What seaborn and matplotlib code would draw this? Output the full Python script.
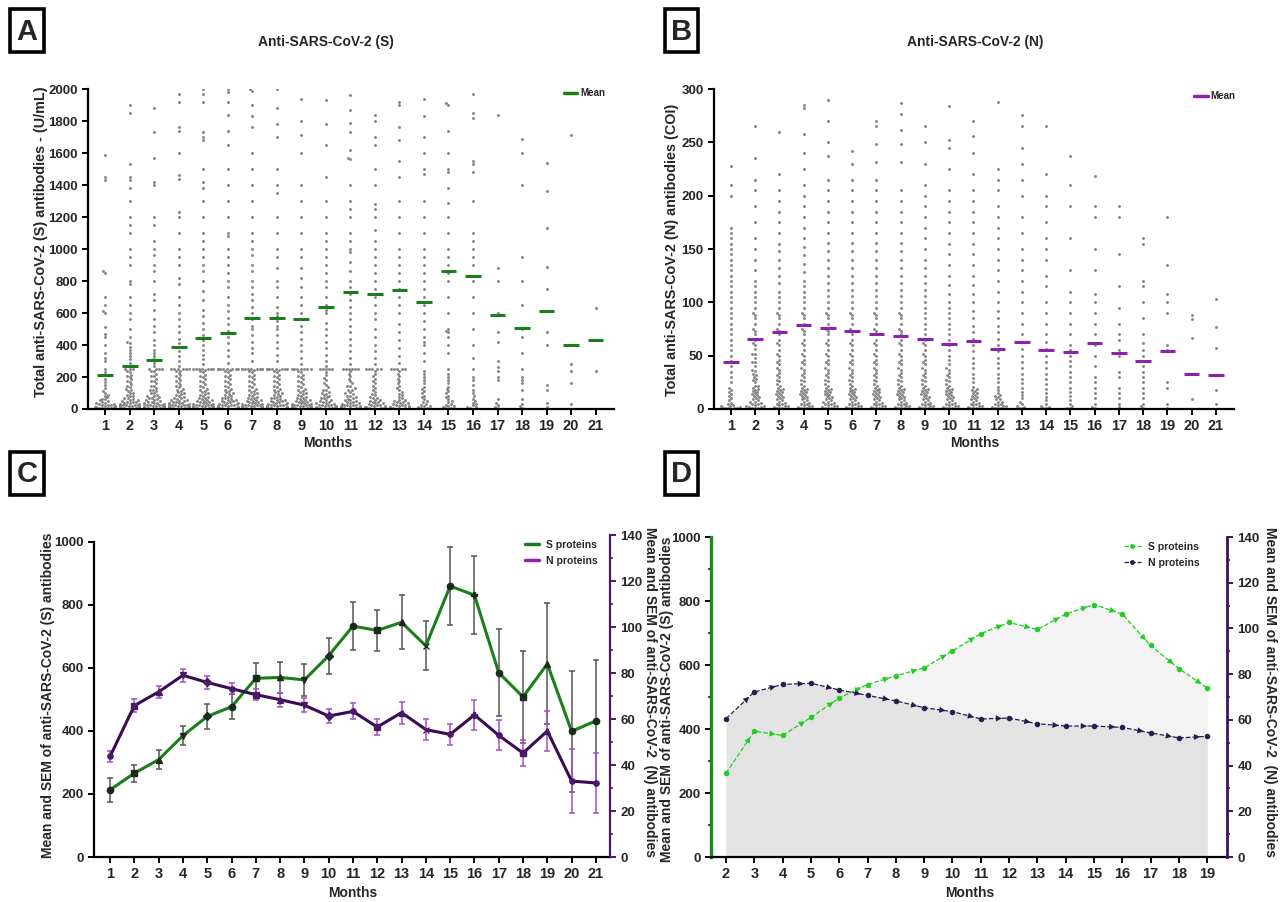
import numpy as np
import pandas as pd
import matplotlib
matplotlib.use("Agg")
import matplotlib.pyplot as plt
from matplotlib.lines import Line2D
from matplotlib.patches import Rectangle
from matplotlib.ticker import MultipleLocator
import seaborn as sns

# ---------------- data ----------------
months = list(range(1, 22))

# panel A - individual anti-S values (U/mL) per month
s_m1 = [2, 4, 5, 6, 8, 10, 12, 14, 15, 18, 20, 22, 25, 28, 30, 33, 36, 40, 45, 50, 55, 60, 65, 72, 80, 90, 100, 115, 130, 150, 170, 190, 210, 230, 250, 300, 320, 350, 400, 450, 470, 510, 600, 610, 650, 700, 850, 860, 1430, 1450, 1590]
s_m2 = [1, 3, 5, 6, 8, 10, 12, 14, 16, 18, 20, 22, 25, 28, 30, 34, 38, 42, 46, 50, 55, 60, 70, 80, 90, 100, 110, 125, 140, 155, 170, 185, 200, 215, 230, 250, 250, 250, 270, 290, 310, 330, 350, 370, 390, 410, 420, 450, 500, 560, 600, 650, 700, 780, 800, 900, 950, 1000, 1100, 1150, 1200, 1300, 1380, 1430, 1450, 1530, 1850, 1900, 3, 7, 12, 17, 22, 28, 35, 44, 55, 68, 82, 98, 120, 145, 175, 205, 235]
s_m3 = [1, 3, 4, 6, 8, 10, 12, 15, 18, 20, 23, 26, 30, 33, 36, 40, 45, 50, 55, 60, 66, 72, 80, 90, 100, 110, 120, 130, 145, 160, 175, 190, 205, 220, 240, 250, 250, 250, 250, 270, 290, 310, 330, 350, 370, 400, 430, 480, 520, 560, 620, 680, 720, 800, 860, 900, 960, 1000, 1050, 1150, 1200, 1400, 1420, 1570, 1730, 1880, 3, 7, 12, 17, 22, 28, 35, 44, 55, 68, 82, 98, 120, 145, 175, 205, 235]
s_m4 = [1, 2, 4, 5, 7, 9, 11, 13, 15, 18, 20, 23, 26, 29, 32, 36, 40, 44, 48, 53, 58, 64, 70, 78, 86, 95, 105, 115, 125, 135, 150, 165, 180, 195, 210, 225, 240, 250, 250, 250, 250, 250, 250, 270, 300, 330, 360, 390, 410, 440, 480, 520, 560, 600, 650, 700, 780, 820, 900, 950, 1000, 1100, 1200, 1230, 1440, 1460, 1600, 1740, 1760, 1920, 1970, 3, 7, 12, 17, 22, 28, 35, 44, 55, 68, 82, 98, 120, 145, 175, 205, 235]
s_m5 = [1, 2, 4, 5, 7, 9, 11, 13, 15, 18, 21, 24, 27, 30, 34, 38, 42, 47, 52, 58, 64, 70, 78, 86, 95, 105, 115, 125, 140, 155, 170, 185, 200, 215, 230, 245, 250, 250, 250, 250, 250, 250, 250, 280, 310, 340, 370, 400, 430, 460, 500, 540, 580, 620, 680, 740, 800, 860, 900, 950, 1000, 1050, 1100, 1200, 1300, 1380, 1420, 1500, 1680, 1700, 1730, 1920, 1970, 2000, 3, 7, 12, 17, 22, 28, 35, 44, 55, 68, 82, 98, 120, 145, 175, 205, 235]
s_m6 = [1, 2, 3, 5, 6, 8, 10, 12, 14, 17, 20, 23, 26, 30, 34, 38, 42, 47, 52, 58, 64, 70, 78, 86, 95, 105, 115, 128, 140, 155, 170, 185, 200, 215, 230, 245, 250, 250, 250, 250, 250, 250, 250, 250, 290, 330, 370, 410, 450, 490, 530, 570, 610, 650, 700, 760, 800, 850, 900, 950, 1000, 1080, 1100, 1200, 1300, 1400, 1500, 1650, 1740, 1840, 1920, 1980, 2000, 3, 7, 12, 17, 22, 28, 35, 44, 55, 68, 82, 98, 120, 145, 175, 205, 235]
s_m7 = [1, 2, 3, 4, 6, 7, 9, 11, 13, 15, 18, 21, 24, 27, 30, 34, 38, 42, 47, 52, 58, 64, 70, 78, 86, 95, 105, 115, 128, 140, 155, 170, 185, 200, 215, 230, 245, 250, 250, 250, 250, 250, 250, 250, 250, 250, 300, 350, 380, 420, 460, 500, 520, 560, 600, 640, 680, 720, 760, 800, 860, 900, 960, 1000, 1050, 1100, 1200, 1300, 1400, 1500, 1600, 1760, 1830, 1900, 1990, 2000, 3, 7, 12, 17, 22, 28, 35, 44, 55, 68, 82, 98, 120, 145, 175, 205, 235]
s_m8 = [1, 2, 3, 5, 6, 8, 10, 12, 14, 17, 20, 23, 26, 30, 34, 38, 42, 47, 52, 58, 64, 70, 78, 86, 95, 105, 115, 128, 140, 155, 170, 185, 200, 215, 230, 245, 250, 250, 250, 250, 250, 250, 250, 250, 300, 340, 380, 420, 460, 500, 520, 550, 580, 600, 640, 700, 760, 800, 880, 950, 1000, 1100, 1200, 1350, 1400, 1500, 1700, 1780, 1880, 2000, 3, 7, 12, 17, 22, 28, 35, 44, 55, 68, 82, 98, 120, 145, 175, 205, 235]
s_m9 = [1, 2, 4, 5, 7, 9, 11, 13, 15, 18, 21, 24, 27, 30, 34, 38, 42, 47, 52, 58, 64, 70, 78, 86, 95, 105, 115, 128, 140, 155, 170, 185, 200, 215, 230, 250, 250, 250, 250, 250, 250, 250, 280, 320, 360, 400, 440, 480, 520, 560, 600, 650, 700, 760, 820, 880, 950, 1000, 1100, 1200, 1300, 1400, 1600, 1710, 1800, 1940, 3, 7, 12, 17, 22, 28, 35, 44, 55, 68, 82, 98, 120, 145, 175, 205, 235]
s_m10 = [2, 4, 6, 9, 12, 15, 19, 23, 27, 32, 37, 43, 50, 58, 66, 75, 85, 96, 108, 120, 135, 150, 165, 180, 195, 210, 230, 250, 250, 250, 250, 250, 270, 300, 340, 380, 420, 460, 500, 540, 600, 620, 650, 700, 760, 800, 850, 900, 950, 1000, 1050, 1100, 1200, 1300, 1450, 1650, 1780, 1930, 3, 7, 12, 17, 22, 28, 35, 44, 55, 68, 82, 98, 120]
s_m11 = [1, 3, 5, 7, 10, 13, 16, 20, 24, 28, 33, 38, 44, 50, 57, 65, 74, 84, 95, 106, 118, 130, 145, 160, 175, 190, 205, 220, 235, 250, 250, 250, 250, 250, 250, 280, 320, 360, 400, 440, 480, 520, 560, 600, 640, 680, 720, 760, 800, 860, 920, 980, 1000, 1050, 1100, 1200, 1250, 1300, 1400, 1560, 1570, 1620, 1730, 1790, 1870, 1960, 3, 7, 12, 17, 22, 28, 35, 44, 55, 68, 82, 98, 120, 145]
s_m12 = [1, 3, 5, 8, 11, 15, 19, 24, 30, 36, 43, 50, 58, 66, 75, 85, 95, 106, 118, 130, 145, 160, 175, 190, 205, 220, 240, 250, 250, 250, 250, 250, 280, 320, 360, 400, 450, 500, 560, 600, 650, 700, 750, 800, 850, 900, 950, 1000, 1050, 1120, 1200, 1250, 1280, 1400, 1500, 1650, 1700, 1800, 1840, 3, 7, 12, 17, 22, 28, 35, 44, 55, 68]
s_m13 = [1, 3, 5, 8, 11, 15, 19, 24, 30, 36, 43, 50, 58, 66, 75, 85, 95, 106, 118, 130, 145, 160, 175, 190, 205, 220, 240, 250, 250, 250, 250, 250, 290, 330, 380, 430, 480, 530, 600, 650, 700, 750, 800, 850, 900, 950, 1000, 1100, 1200, 1300, 1450, 1550, 1680, 1760, 1900, 1920, 3, 7, 12, 17, 22, 28, 35, 44, 55]
s_m14 = [2, 5, 8, 12, 16, 21, 27, 34, 42, 51, 61, 72, 84, 97, 110, 125, 140, 160, 180, 200, 220, 240, 300, 350, 400, 420, 450, 500, 550, 600, 650, 700, 750, 800, 850, 900, 950, 1000, 1100, 1200, 1300, 1470, 1500, 1600, 1700, 1830, 1940]
s_m15 = [2, 5, 8, 12, 16, 21, 27, 34, 42, 51, 61, 72, 84, 97, 110, 125, 140, 160, 180, 200, 220, 250, 350, 400, 450, 480, 490, 500, 600, 700, 800, 850, 900, 950, 1000, 1100, 1200, 1290, 1380, 1480, 1500, 1600, 1740, 1900, 1910]
s_m16 = [2, 6, 10, 15, 22, 30, 40, 52, 65, 80, 100, 120, 150, 180, 200, 250, 320, 400, 500, 600, 700, 800, 900, 950, 1000, 1050, 1100, 1300, 1480, 1530, 1550, 1820, 1850, 1970]
s_m17 = [5, 12, 25, 40, 60, 180, 200, 240, 260, 300, 420, 480, 600, 800, 880, 1840]
s_m18 = [8, 20, 30, 60, 120, 160, 180, 200, 250, 350, 450, 500, 650, 800, 950, 1400, 1600, 1690]
s_m19 = [15, 40, 120, 150, 400, 480, 610, 750, 890, 1130, 1360, 1540]
s_m20 = [30, 160, 240, 280, 400, 1710]
s_m21 = [240, 430, 630]

# panel B - individual anti-N values (COI) per month
n_m1 = [0.3, 0.5, 0.8, 1, 1.2, 1.5, 2, 2.5, 3, 4, 5, 6, 8, 10, 12, 14, 16, 18, 20, 25, 30, 35, 40, 45, 50, 55, 60, 65, 70, 75, 80, 85, 90, 95, 100, 105, 110, 115, 120, 125, 130, 135, 140, 145, 150, 155, 160, 165, 170, 200, 210, 228]
n_m2 = [0.5, 1, 1.5, 2, 3, 4, 5, 6, 7, 8, 10, 12, 14, 16, 18, 20, 22, 25, 28, 30, 33, 36, 40, 44, 48, 52, 56, 60, 65, 70, 75, 80, 85, 90, 95, 100, 105, 110, 115, 120, 130, 140, 150, 160, 175, 190, 205, 215, 235, 265, 1, 2.5, 4.5, 7, 9, 11, 13, 15, 17, 19, 22, 27, 32, 37, 44, 52, 62, 73, 88]
n_m3 = [0.5, 1, 2, 3, 4, 5, 6, 8, 10, 12, 14, 16, 18, 20, 23, 26, 30, 34, 38, 42, 46, 50, 55, 60, 65, 70, 75, 80, 85, 90, 95, 100, 105, 110, 118, 125, 132, 140, 148, 155, 165, 175, 185, 195, 205, 220, 260, 1, 2.5, 4.5, 7, 9, 11, 13, 15, 17, 19, 22, 27, 32, 37, 44, 52, 62, 73, 88]
n_m4 = [0.5, 1, 2, 3, 4, 5, 6, 8, 10, 12, 14, 16, 18, 20, 23, 26, 30, 34, 38, 42, 46, 50, 55, 60, 65, 70, 75, 80, 85, 90, 95, 100, 105, 110, 115, 120, 128, 136, 144, 152, 160, 170, 180, 190, 200, 210, 225, 240, 258, 282, 285, 1, 2.5, 4.5, 7, 9, 11, 13, 15, 17, 19, 22, 27, 32, 37, 44, 52, 62, 73, 88]
n_m5 = [0.5, 1, 2, 3, 4, 5, 6, 7, 8, 10, 12, 14, 16, 18, 20, 23, 26, 30, 34, 38, 42, 46, 50, 55, 60, 65, 70, 75, 80, 85, 90, 95, 100, 106, 112, 118, 125, 132, 140, 148, 156, 165, 175, 185, 195, 205, 215, 237, 250, 270, 290, 1, 2.5, 4.5, 7, 9, 11, 13, 15, 17, 19, 22, 27, 32, 37, 44, 52, 62, 73, 88]
n_m6 = [0.5, 1, 2, 3, 4, 5, 6, 8, 10, 12, 14, 16, 18, 20, 23, 26, 30, 34, 38, 42, 46, 50, 55, 60, 65, 70, 75, 80, 85, 90, 95, 100, 106, 112, 118, 125, 132, 140, 148, 156, 165, 175, 185, 195, 205, 215, 230, 242, 1, 2.5, 4.5, 7, 9, 11, 13, 15, 17, 19, 22, 27, 32, 37, 44, 52, 62, 73, 88]
n_m7 = [0.5, 1, 2, 3, 4, 5, 6, 8, 10, 12, 14, 16, 18, 20, 23, 26, 30, 34, 38, 42, 46, 50, 55, 60, 65, 70, 75, 80, 85, 90, 95, 100, 106, 112, 118, 125, 132, 140, 148, 156, 165, 175, 185, 195, 205, 215, 232, 248, 265, 270, 1, 2.5, 4.5, 7, 9, 11, 13, 15, 17, 19, 22, 27, 32, 37, 44, 52, 62, 73, 88]
n_m8 = [0.5, 1, 2, 3, 4, 5, 6, 8, 10, 12, 14, 16, 18, 20, 23, 26, 30, 34, 38, 42, 46, 50, 55, 60, 65, 70, 75, 80, 85, 90, 95, 100, 106, 112, 118, 125, 132, 140, 148, 156, 165, 175, 185, 195, 205, 232, 248, 262, 277, 287, 1, 2.5, 4.5, 7, 9, 11, 13, 15, 17, 19, 22, 27, 32, 37, 44, 52, 62, 73, 88]
n_m9 = [0.5, 1, 2, 3, 4, 5, 6, 8, 10, 12, 14, 16, 18, 20, 23, 26, 30, 34, 38, 42, 46, 50, 55, 60, 65, 70, 75, 80, 85, 90, 95, 100, 106, 112, 118, 125, 132, 140, 150, 160, 170, 180, 190, 200, 210, 230, 250, 265, 1, 2.5, 4.5, 7, 9, 11, 13, 15, 17, 19, 22, 27, 32, 37, 44, 52, 62]
n_m10 = [0.5, 1, 2, 3, 4, 5, 6, 8, 10, 12, 14, 16, 18, 20, 23, 26, 30, 34, 38, 42, 46, 50, 55, 60, 65, 70, 75, 80, 85, 90, 95, 100, 108, 116, 125, 135, 145, 155, 165, 175, 185, 195, 205, 225, 245, 252, 284, 1, 2.5, 4.5, 7, 9, 11, 13, 15, 17, 19, 22, 27, 32, 37]
n_m11 = [0.5, 1, 2, 3, 4, 5, 6, 8, 10, 12, 15, 18, 21, 25, 29, 33, 38, 43, 48, 54, 60, 66, 72, 78, 85, 92, 100, 108, 116, 125, 135, 145, 155, 165, 175, 185, 195, 205, 220, 240, 256, 270, 1, 2.5, 4.5, 7, 9, 11, 13, 15, 17, 19]
n_m12 = [0.5, 1, 2, 3, 4, 5, 7, 9, 12, 15, 18, 21, 25, 29, 33, 38, 43, 48, 54, 60, 66, 72, 78, 85, 92, 100, 110, 120, 130, 140, 150, 160, 170, 180, 190, 205, 215, 225, 288, 1, 2.5, 4.5, 7, 9, 11, 13]
n_m13 = [0.5, 1, 2, 3, 5, 7, 10, 13, 16, 20, 24, 28, 33, 38, 44, 50, 56, 63, 70, 80, 90, 100, 110, 120, 130, 140, 150, 165, 180, 200, 215, 230, 245, 265, 276]
n_m14 = [0.5, 1, 2, 3, 5, 8, 11, 15, 19, 23, 28, 33, 38, 44, 50, 56, 63, 70, 80, 90, 100, 115, 125, 140, 150, 160, 175, 190, 200, 220, 265]
n_m15 = [0.5, 1, 3, 5, 8, 12, 16, 20, 25, 30, 35, 40, 45, 50, 55, 60, 70, 80, 90, 100, 110, 130, 160, 190, 210, 237]
n_m16 = [0.5, 2, 5, 10, 15, 20, 25, 30, 40, 50, 60, 70, 80, 90, 100, 108, 130, 150, 180, 190, 218]
n_m17 = [2, 5, 10, 15, 20, 30, 35, 50, 55, 65, 70, 80, 95, 115, 145, 180, 190]
n_m18 = [1, 3, 5, 10, 15, 20, 25, 30, 35, 40, 45, 50, 55, 62, 70, 85, 100, 115, 120, 155, 160]
n_m19 = [1, 5, 20, 25, 55, 60, 90, 100, 108, 135, 180]
n_m20 = [9, 67, 84, 88]
n_m21 = [5, 18, 57, 77, 103]

# monthly mean and SEM (panels A/B means, panel C)
s_mean = [213, 266, 309, 385, 446, 477, 567, 570, 562, 639, 733, 719, 745, 670, 860, 831, 585, 508, 613, 399, 432]
s_sem = [38, 27, 30, 31, 41, 40, 48, 50, 52, 57, 75, 66, 86, 78, 124, 124, 139, 145, 192, 192, 193]
n_mean = [43.7, 65.8, 71.8, 79.0, 75.9, 73.2, 70.6, 68.4, 66.0, 61.3, 63.3, 56.5, 62.8, 55.4, 53.3, 61.8, 52.9, 45.2, 54.8, 33.0, 32.2]
n_sem = [2.5, 2.7, 2.7, 2.9, 2.9, 2.5, 2.5, 3.0, 3.0, 3.2, 3.5, 3.5, 4.8, 4.7, 4.5, 6.5, 6.5, 5.5, 8.5, 14.0, 13.0]

# panel D - series for months 2-19
d_months = list(range(2, 20))
d_s = [262, 393, 380, 436, 497, 539, 566, 591, 644, 698, 733, 711, 759, 789, 759, 661, 589, 528]
d_n = [60.5, 72.2, 75.5, 76.0, 73.1, 70.7, 68.3, 65.3, 63.6, 60.4, 60.8, 58.3, 57.3, 57.3, 56.7, 54.3, 52.1, 52.8]

s_points = [s_m1, s_m2, s_m3, s_m4, s_m5, s_m6, s_m7, s_m8, s_m9, s_m10, s_m11,
            s_m12, s_m13, s_m14, s_m15, s_m16, s_m17, s_m18, s_m19, s_m20, s_m21]
n_points = [n_m1, n_m2, n_m3, n_m4, n_m5, n_m6, n_m7, n_m8, n_m9, n_m10, n_m11,
            n_m12, n_m13, n_m14, n_m15, n_m16, n_m17, n_m18, n_m19, n_m20, n_m21]

# ---------------- style ----------------
sns.set_style("ticks")
plt.rcParams["font.family"] = ["Liberation Sans", "DejaVu Sans"]
plt.rcParams["font.weight"] = "bold"
plt.rcParams["axes.labelweight"] = "bold"

GREEN = "#1a7f1a"
PURPLE = "#3c0b58"
LPURPLE = "#8e22b0"
LIME = "#22cc22"
NAVY = "#2a1a50"

W, H = 1288, 902


def rect(l, t, r, b):
    return [l / W, 1 - b / H, (r - l) / W, (b - t) / H]


def style(ax):
    for s in ["top", "right"]:
        ax.spines[s].set_visible(False)
    for s in ["left", "bottom"]:
        ax.spines[s].set_linewidth(1.6)
        ax.spines[s].set_color("black")
    ax.tick_params(width=1.4, length=4, labelsize=9.5, color="black")
    ax.tick_params(axis="x", labelsize=10.5)
    ax.set_xlabel("")
    ax.set_ylabel("")
    for lab in ax.get_xticklabels() + ax.get_yticklabels():
        lab.set_fontweight("bold")


def ftext(x, y, s, **kw):
    kw.setdefault("ha", "center")
    kw.setdefault("va", "center")
    kw.setdefault("fontweight", "bold")
    fig.text(x / W, 1 - y / H, s, **kw)


fig = plt.figure(figsize=(W / 100, H / 100), dpi=100)
pos = np.arange(len(months))

# ---------------- A ----------------
axA = fig.add_axes(rect(88, 89, 614, 409))
dfA = pd.DataFrame({"month": np.repeat(months, [len(v) for v in s_points]),
                    "value": np.concatenate(s_points)})
sns.swarmplot(data=dfA, x="month", y="value", order=months, color="#858585",
              size=2.1, ax=axA, warn_thresh=1, zorder=2)
axA.hlines(s_mean, pos - 0.32, pos + 0.32, color=GREEN, lw=2.2, zorder=5)
axA.set_xlim(-0.7, 20.75)
axA.set_ylim(0, 2000)
axA.set_yticks(range(0, 2001, 200))
style(axA)
axA.legend([Line2D([], [], color=GREEN, lw=2.5)], ["Mean"], loc="upper right",
           bbox_to_anchor=(1.0, 1.03), frameon=False, fontsize=7,
           handlelength=1.4, handletextpad=0.3)

# ---------------- B ----------------
axB = fig.add_axes(rect(714, 89, 1234, 409))
dfB = pd.DataFrame({"month": np.repeat(months, [len(v) for v in n_points]),
                    "value": np.concatenate(n_points)})
sns.swarmplot(data=dfB, x="month", y="value", order=months, color="#858585",
              size=2.1, ax=axB, warn_thresh=1, zorder=2)
axB.hlines(n_mean, pos - 0.32, pos + 0.32, color=LPURPLE, lw=2.2, zorder=5)
axB.set_xlim(-0.7, 20.75)
axB.set_ylim(0, 300)
axB.set_yticks(range(0, 301, 50))
style(axB)
axB.legend([Line2D([], [], color=LPURPLE, lw=2.5)], ["Mean"], loc="upper right",
           bbox_to_anchor=(1.02, 1.02), frameon=False, fontsize=7,
           handlelength=1.4, handletextpad=0.3)

# ---------------- C ----------------
axC = fig.add_axes(rect(94, 535, 610, 857))
axC2 = axC.twinx()
c_markers = ["o", "s", "^", "v", "D", "o", "s", "^", "v", "D", "o",
             "s", "^", "x", "o", "P", "o", "s", "^", "o", "o"]
axC.errorbar(months, s_mean, yerr=s_sem, fmt="none", ecolor="#555555",
             elinewidth=1.1, capsize=2.5, capthick=1.1, zorder=2)
sns.lineplot(x=months, y=s_mean, color=GREEN, lw=2.2, ax=axC, zorder=3)
for m, v, mk in zip(months, s_mean, c_markers):
    axC.plot(m, v, marker=mk, color="#1c2a1c", ms=4.5, zorder=4)
axC2.errorbar(months, n_mean, yerr=n_sem, fmt="none", ecolor="#a050c8",
              elinewidth=1.1, capsize=2.5, capthick=1.1, zorder=2)
sns.lineplot(x=months, y=n_mean, color=PURPLE, lw=2.2, ax=axC2, zorder=3)
for m, v, mk in zip(months, n_mean, c_markers):
    axC2.plot(m, v, marker=mk, color="#4a1a66", ms=3.8, zorder=4)
axC.set_xlim(0.34, 21.58)
axC.set_ylim(0, 1022)
axC.set_yticks(range(0, 1001, 200))
axC.set_xticks(months)
style(axC)
axC.spines["left"].set_bounds(0, 1000)
axC2.set_ylim(0, 140)
axC2.set_yticks(range(0, 141, 20))
axC2.yaxis.set_minor_locator(MultipleLocator(10))
for s in ["top", "left", "bottom"]:
    axC2.spines[s].set_visible(False)
axC2.spines["right"].set_color("#4b175f")
axC2.spines["right"].set_linewidth(1.6)
axC2.tick_params(axis="y", which="major", width=1.4, length=4, labelsize=9.5, color="#4b175f")
axC2.tick_params(axis="y", which="minor", width=1.2, length=2.5, color="#4b175f")
axC2.set_ylabel("")
for lab in axC2.get_yticklabels():
    lab.set_fontweight("bold")
axC2.legend([Line2D([], [], color=GREEN, lw=2.5), Line2D([], [], color=LPURPLE, lw=2.5)],
            ["S proteins", "N proteins"], loc="upper right", bbox_to_anchor=(0.995, 1.015),
            frameon=False, fontsize=7.5, handlelength=1.4, handletextpad=0.7, labelspacing=0.6)

# ---------------- D ----------------
axD = fig.add_axes(rect(711, 537, 1227, 857))
axD2 = axD.twinx()
axD.fill_between(d_months, d_s, color="#f3f3f3", lw=0, zorder=0)
axD.fill_between(d_months, np.array(d_n) * 1000 / 140, color="#e3e3e3", lw=0, zorder=1)
sns.lineplot(x=d_months, y=d_s, color=LIME, ls="--", lw=0.9, marker="o", ms=3.2,
             mec=LIME, ax=axD, zorder=3)
sns.lineplot(x=d_months, y=d_n, color=NAVY, ls="--", lw=0.9, marker="o", ms=3.2,
             mec=NAVY, ax=axD2, zorder=3)


def arrows(ax, x, y, c):
    for i in range(len(x) - 1):
        ax.annotate("", xy=(x[i + 1], y[i + 1]), xytext=(x[i], y[i]),
                    arrowprops=dict(arrowstyle="-|>,head_length=0.45,head_width=0.22",
                                    color=c, lw=0, shrinkA=0, shrinkB=5, mutation_scale=10))


arrows(axD, d_months, d_s, LIME)
arrows(axD2, d_months, d_n, NAVY)
axD.set_xlim(1.47, 19.7)
axD.set_ylim(0, 1000)
axD.set_yticks(range(0, 1001, 200))
axD.yaxis.set_minor_locator(MultipleLocator(100))
axD.set_xticks(d_months)
style(axD)
axD.tick_params(axis="y", which="minor", width=1.2, length=2.5)
axD.spines["left"].set_color("#1a8a1a")
axD.spines["left"].set_linewidth(2.4)
axD2.set_ylim(0, 140)
axD2.set_yticks(range(0, 141, 20))
axD2.yaxis.set_minor_locator(MultipleLocator(10))
for s in ["top", "left", "bottom"]:
    axD2.spines[s].set_visible(False)
axD2.spines["right"].set_color("#3c1456")
axD2.spines["right"].set_linewidth(2.0)
axD2.tick_params(axis="y", which="major", width=1.4, length=4, labelsize=9.5, color="#3c1456")
axD2.tick_params(axis="y", which="minor", width=1.2, length=2.5, color="#3c1456")
axD2.set_ylabel("")
for lab in axD2.get_yticklabels():
    lab.set_fontweight("bold")
axD2.legend([Line2D([], [], color=LIME, ls="--", lw=0.9, marker="o", ms=2.5),
             Line2D([], [], color=NAVY, ls="--", lw=0.9, marker="o", ms=2.5)],
            ["S proteins", "N proteins"], loc="upper right", bbox_to_anchor=(0.965, 1.015),
            frameon=False, fontsize=7.5, handlelength=1.6, handletextpad=0.7, labelspacing=0.6)

# ---------------- texts ----------------
ftext(326, 42, "Anti-SARS-CoV-2 (S)", fontsize=10)
ftext(975, 42, "Anti-SARS-CoV-2 (N)", fontsize=10)
ftext(41, 242, "Total anti-SARS-CoV-2 (S) antibodies - (U/mL)", rotation=90, fontsize=10.4)
ftext(672, 250, "Total anti-SARS-CoV-2 (N) antibodies (COI)", rotation=90, fontsize=10.4)
ftext(328, 443, "Months", fontsize=10)
ftext(975, 443, "Months", fontsize=10)
ftext(48, 695, "Mean and SEM of anti-SARS-CoV-2 (S) antibodies", rotation=90, fontsize=10)
ftext(650, 692, "Mean and SEM of anti-SARS-CoV-2  (N) antibodies", rotation=270, fontsize=10)
ftext(353, 893, "Months", fontsize=10)
ftext(667, 699, "Mean and SEM of anti-SARS-CoV-2 (S) antibodies", rotation=90, fontsize=10)
ftext(1270, 692, "Mean and SEM of anti-SARS-CoV-2  (N) antibodies", rotation=270, fontsize=10)
ftext(970, 893, "Months", fontsize=10)

for letter, (l, t, r, b) in {"A": (10, 9, 44, 52), "B": (665, 9, 698, 52),
                             "C": (10, 452, 44, 495), "D": (665, 452, 698, 495)}.items():
    fig.patches.append(Rectangle((l / W, 1 - b / H), (r - l) / W, (b - t) / H,
                                 transform=fig.transFigure, fill=False, lw=2.6, ec="black"))
    ftext((l + r) / 2, (t + b) / 2 + 1, letter, fontsize=21)

fig.savefig("out.png", dpi=100)
